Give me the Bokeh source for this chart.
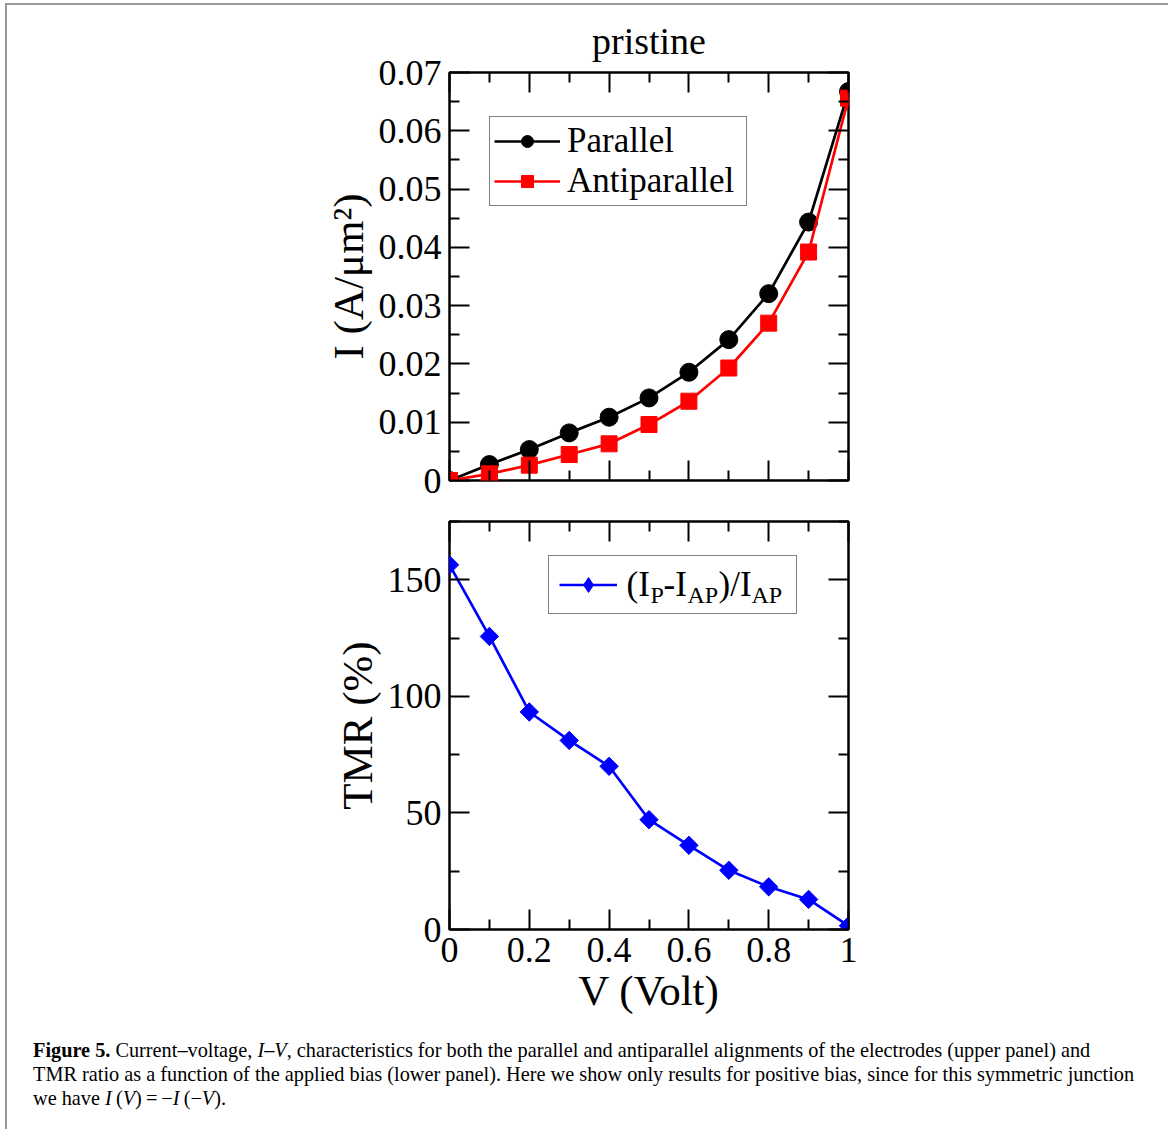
from bokeh.plotting import figure
from bokeh.models import (LinearAxis, FixedTicker, PrintfTickFormatter, CustomJSTickFormatter,
                          Legend, LegendItem, Label, Div, Range1d)
from bokeh.layouts import column
from bokeh.embed import file_html
from bokeh.resources import INLINE

# ---------------- data ----------------
V = [0.0, 0.1, 0.2, 0.3, 0.4, 0.5, 0.6, 0.7, 0.8, 0.9, 1.0]
I_parallel = [0.0, 0.00274, 0.00531, 0.00817, 0.01086, 0.01417, 0.01857, 0.02417, 0.03206, 0.04434, 0.06674]
I_antiparallel = [0.0, 0.00114, 0.00263, 0.00446, 0.00629, 0.0096, 0.0136, 0.0193, 0.0270, 0.0392, 0.0656]
TMR = [156.4, 125.7, 93.3, 81.1, 70.0, 47.1, 36.1, 25.4, 18.3, 12.9, 1.6]

x_major = [0.0, 0.2, 0.4, 0.6, 0.8, 1.0]
x_minor = [0.1, 0.3, 0.5, 0.7, 0.9]
i_major = [0.0, 0.01, 0.02, 0.03, 0.04, 0.05, 0.06, 0.07]
i_minor = [0.005, 0.015, 0.025, 0.035, 0.045, 0.055, 0.065]
t_major = [0, 50, 100, 150]
t_minor = [25, 75, 125, 175]

FONT = "Liberation Serif"
TICK_FS = "36px"
LABEL_FS = "43px"


def style_axis(ax, show_labels):
    ax.axis_line_color = None
    ax.major_tick_in = 20
    ax.major_tick_out = 0
    ax.minor_tick_in = 10
    ax.minor_tick_out = 0
    ax.major_tick_line_color = "black"
    ax.minor_tick_line_color = "black"
    ax.major_tick_line_width = 2
    ax.minor_tick_line_width = 2
    ax.major_label_text_font = FONT
    ax.major_label_text_color = "black"
    ax.major_label_text_font_size = TICK_FS
    ax.axis_label_text_font = FONT
    ax.axis_label_text_font_style = "normal"
    ax.axis_label_text_font_size = LABEL_FS
    ax.axis_label_text_color = "black"
    if show_labels:
        ax.formatter = PrintfTickFormatter(format="%g")
    else:
        ax.formatter = CustomJSTickFormatter(code="return ''")
        ax.major_label_standoff = 0


def add_axes(p, xt, xm, yt, ym, xlabels, ylabel_text, xlabel_text):
    xtick = FixedTicker(ticks=xt, minor_ticks=xm)
    ytick = FixedTicker(ticks=yt, minor_ticks=ym)
    b = LinearAxis(ticker=xtick)
    style_axis(b, xlabels)
    if xlabels:
        b.major_label_standoff = 8
    if xlabel_text:
        b.axis_label = xlabel_text
        b.axis_label_standoff = 2
    a = LinearAxis(ticker=xtick)
    style_axis(a, False)
    l = LinearAxis(ticker=ytick)
    style_axis(l, True)
    l.major_label_standoff = 8
    l.axis_label = ylabel_text
    l.axis_label_standoff = 4
    r = LinearAxis(ticker=ytick)
    style_axis(r, False)
    p.add_layout(b, "below")
    p.add_layout(a, "above")
    p.add_layout(l, "left")
    p.add_layout(r, "right")


def base_fig(ymax, top, bottom):
    p = figure(frame_width=399, frame_height=408,
               x_range=Range1d(0, 1), y_range=Range1d(0, ymax),
               x_axis_location=None, y_axis_location=None,
               output_backend="svg", toolbar_location=None,
               min_border_left=444, min_border_right=316,
               min_border_top=top, min_border_bottom=bottom)
    p.grid.visible = False
    p.outline_line_color = "black"
    p.outline_line_width = 2.5
    p.background_fill_color = "white"
    p.border_fill_color = None
    return p


# ---------------- top panel ----------------
p1 = base_fig(0.07, 69, 21)
p1.title.text = "pristine"
p1.title.align = "center"
p1.title.text_font = FONT
p1.title.text_font_size = "38px"
p1.title.text_font_style = "normal"
p1.title.text_color = "black"
p1.title.standoff = 22
add_axes(p1, x_major, x_minor, i_major, i_minor, False, "I (A/μm²)", None)

lp = p1.line(V, I_parallel, line_color="black", line_width=2.7)
sp = p1.scatter(V, I_parallel, marker="circle", size=18, fill_color="black", line_color="black")
la = p1.line(V, I_antiparallel, line_color="red", line_width=2.7)
sa = p1.scatter(V, I_antiparallel, marker="square", size=16, fill_color="red", line_color="red")

leg1 = Legend(items=[LegendItem(label="Parallel", renderers=[lp, sp]),
                     LegendItem(label="Antiparallel", renderers=[la, sa])],
              location=(40, 274))
leg1.label_text_font = FONT
leg1.label_text_font_size = "35px"
leg1.label_text_color = "black"
leg1.glyph_width = 66
leg1.glyph_height = 30
leg1.label_standoff = 7
leg1.label_width = 175
leg1.padding = 4
leg1.spacing = 0
leg1.margin = 0
leg1.border_line_color = "black"
leg1.border_line_width = 1.5
leg1.background_fill_alpha = 1
p1.add_layout(leg1, "center")

# ---------------- bottom panel ----------------
p2 = base_fig(175, 20, 90)
add_axes(p2, x_major, x_minor, t_major, t_minor, True, "TMR (%)", "V (Volt)")

lt = p2.line(V, TMR, line_color="blue", line_width=2.7)
st = p2.scatter(V, TMR, marker="square", angle=0.785398, size=13, fill_color="blue", line_color="blue")
# narrower diamond hidden under the rotated squares, used for the legend glyph
sd = p2.scatter(V, TMR, marker="diamond", size=17, fill_color="blue", line_color="blue")

leg2 = Legend(items=[LegendItem(label=" ", renderers=[lt, sd])], location=(99, 315))
leg2.glyph_width = 58
leg2.glyph_height = 37
leg2.label_standoff = 10
leg2.label_width = 159
leg2.label_text_font_size = "20px"
leg2.padding = 10
leg2.spacing = 0
leg2.margin = 0
leg2.border_line_color = "black"
leg2.border_line_width = 1.5
leg2.background_fill_alpha = 0
p2.add_layout(leg2, "center")

# legend text with subscripts: (I_P - I_AP)/I_AP
pieces = [("(I", 177, 345, "35px"), ("P", 201, 335, "24px"), ("-I", 214, 345, "35px"),
          ("AP", 238, 335, "24px"), (")/I", 269, 345, "35px"), ("AP", 302, 335, "24px")]
for txt, xs, ys, fs in pieces:
    p2.add_layout(Label(x=xs, y=ys, x_units="screen", y_units="screen", text=txt,
                        text_font=FONT, text_font_size=fs, text_color="black",
                        text_baseline="alphabetic", text_align="left", level="overlay"))

caption = Div(
    text=('<b>Figure 5.</b> Current–voltage, <i>I</i>–<i>V</i>, characteristics for both the parallel and '
          'antiparallel alignments of the electrodes (upper panel) and<br>'
          'TMR ratio as a function of the applied bias (lower panel). Here we show only results for '
          'positive bias, since for this symmetric junction<br>'
          'we have <i>I</i>&#8201;(<i>V</i>)&#8201;=&#8201;−<i>I</i>&#8201;(−<i>V</i>).'),
    width=1159, height=108,
    styles={"font-family": "Liberation Serif", "font-size": "20.3px", "line-height": "24px",
            "padding-left": "23px", "padding-top": "14px", "white-space": "nowrap",
            "color": "black", "box-sizing": "border-box"})

layout = column(p1, p2, caption, spacing=0, margin=(3, 0, 0, 5),
                styles={"box-shadow": "inset 2px 0 0 0 #999, inset -2px 0 0 0 #999, inset 0 2px 0 0 #999"})

open("out.html", "w").write(file_html(layout, INLINE))
